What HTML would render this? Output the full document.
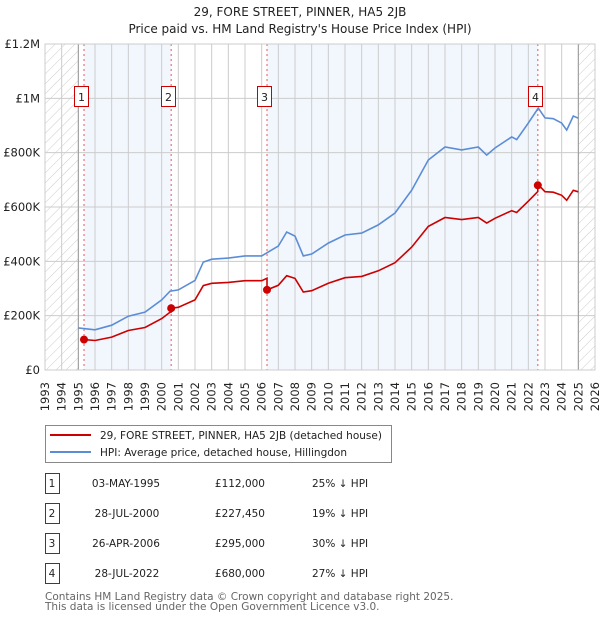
<!DOCTYPE html>
<html><head><meta charset="utf-8"><style>
body{margin:0;background:#fff;font-family:"DejaVu Sans","Liberation Sans",sans-serif;}
svg text{font-family:"DejaVu Sans","Liberation Sans",sans-serif;}
</style></head><body>
<svg id="c" width="600" height="620" xmlns="http://www.w3.org/2000/svg">
<defs><pattern id="hatch" width="7" height="7" patternUnits="userSpaceOnUse" patternTransform="rotate(45)"><line x1="0" y1="0" x2="0" y2="7" stroke="#ccc" stroke-width="1"/></pattern></defs>
<text x="300" y="16" text-anchor="middle" font-size="12" fill="#222">29, FORE STREET, PINNER, HA5 2JB</text>
<text x="300" y="33" text-anchor="middle" font-size="12" fill="#222">Price paid vs. HM Land Registry's House Price Index (HPI)</text>
<g id="plot"></g>
<g>
<rect x="45.5" y="425.5" width="346" height="37" fill="#fff" stroke="#888"/>
<line x1="50" y1="435" x2="91" y2="435" stroke="#cc0000" stroke-width="2"/>
<text x="100" y="439" font-size="10.5" fill="#222">29, FORE STREET, PINNER, HA5 2JB (detached house)</text>
<line x1="50" y1="452" x2="91" y2="452" stroke="#5b8dd6" stroke-width="2"/>
<text x="100" y="456" font-size="10.5" fill="#222">HPI: Average price, detached house, Hillingdon</text>
</g>
<g id="table"></g>
<text x="45" y="600" font-size="10.5" fill="#666">Contains HM Land Registry data © Crown copyright and database right 2025.</text>
<text x="45" y="610" font-size="10.5" fill="#666">This data is licensed under the Open Government Licence v3.0.</text>
</svg>
<script>
const hpiYears=[1995,1996,1997,1998,1999,2000,2000.5,2001,2002,2002.5,2003,2004,2005,2006,2007,2007.5,2008,2008.5,2009,2010,2011,2012,2013,2014,2015,2016,2017,2018,2019,2019.5,2020,2021,2021.3,2022,2022.6,2023,2023.5,2024,2024.3,2024.7,2025];
const hpiValues=[155000,148000,165000,198000,213000,258000,290000,295000,330000,397000,408000,412000,420000,420000,456000,508000,493000,420000,427000,467000,497000,504000,534000,578000,662000,773000,821000,810000,821000,791000,817000,858000,848000,909000,964000,928000,925000,909000,883000,935000,927000];
const saleLabels=["1","2","3","4"];
const saleDates=["03-MAY-1995","28-JUL-2000","26-APR-2006","28-JUL-2022"];
const saleYears=[1995.34,2000.57,2006.32,2022.57];
const salePrices=[112000,227450,295000,680000];
const salePriceText=["£112,000","£227,450","£295,000","£680,000"];
const saleDeltaText=["25% ↓ HPI","19% ↓ HPI","30% ↓ HPI","27% ↓ HPI"];
const yTickValues=[0,200000,400000,600000,800000,1000000,1200000];
const yTickLabels=["£0","£200K","£400K","£600K","£800K","£1M","£1.2M"];
const xTickYears=[1993,1994,1995,1996,1997,1998,1999,2000,2001,2002,2003,2004,2005,2006,2007,2008,2009,2010,2011,2012,2013,2014,2015,2016,2017,2018,2019,2020,2021,2022,2023,2024,2025,2026];

const NS="http://www.w3.org/2000/svg";
const L=45,R=595,T=44,B=370;
const X=y=>L+(y-1993)/(2026-1993)*(R-L);
const Y=v=>B-v/1200000*(B-T);
function mk(tag,attrs,parent){const e=document.createElementNS(NS,tag);for(const k in attrs)e.setAttribute(k,attrs[k]);parent.appendChild(e);return e;}
const plot=document.getElementById('plot');
for(let i=0;i<saleYears.length;i+=2){
 const b=mk('rect',{x:X(saleYears[i]),y:T,width:X(saleYears[i+1])-X(saleYears[i]),height:B-T,fill:'#f2f6fd'},plot);
 
 
}
const h1=mk('rect',{x:L,y:T,width:X(1995)-L,height:B-T,fill:'url(#hatch)'},plot);


const h2=mk('rect',{x:X(2025),y:T,width:R-X(2025),height:B-T,fill:'url(#hatch)'},plot);


xTickYears.forEach((yr,i)=>{
 const g=mk('line',{x1:X(yr),x2:X(yr),y1:T,y2:B,stroke:'#ccc','stroke-width':1},plot);
 
 
 const t=mk('text',{x:0,y:0,'font-size':11.5,fill:'#222','text-anchor':'end',transform:`translate(${X(yr)+4},382) rotate(-90)`},plot);
 t.textContent=yr;
 
 
});
yTickValues.forEach((v,i)=>{
 const g=mk('line',{x1:L,x2:R,y1:Y(v),y2:Y(v),stroke:'#ccc','stroke-width':1},plot);
 
 
 const t=mk('text',{x:40,y:Y(v)+4,'font-size':11.5,fill:'#222','text-anchor':'end'},plot);
 t.textContent=yTickLabels[i];
 
 
});
const vx1=mk('line',{x1:X(1995),x2:X(1995),y1:T,y2:B,stroke:'#999'},plot);


const vx2=mk('line',{x1:X(2025),x2:X(2025),y1:T,y2:B,stroke:'#999'},plot);


saleYears.forEach((sy,i)=>{
 const l=mk('line',{x1:X(sy),x2:X(sy),y1:T,y2:B,stroke:'#ee5555','stroke-dasharray':'2,3','stroke-width':1},plot);
 
 
});
function hpiAt(y){for(let i=0;i<hpiYears.length-1;i++){if(y<=hpiYears[i+1]){const f=(y-hpiYears[i])/(hpiYears[i+1]-hpiYears[i]);return hpiValues[i]+f*(hpiValues[i+1]-hpiValues[i]);}}return hpiValues[hpiValues.length-1];}
const hp=mk('path',{d:hpiYears.map((y,i)=>(i?'L':'M')+X(y).toFixed(1)+','+Y(hpiValues[i]).toFixed(1)).join(''),fill:'none',stroke:'#5b8dd6','stroke-width':1.6},plot);


let pts=[];
for(let s=0;s<saleYears.length;s++){
 const ratio=salePrices[s]/hpiAt(saleYears[s]);
 const end=s<saleYears.length-1?saleYears[s+1]:2025;
 pts.push([saleYears[s],salePrices[s]]);
 hpiYears.forEach((y,i)=>{if(y>saleYears[s]&&y<end)pts.push([y,hpiValues[i]*ratio]);});
 pts.push([end,hpiAt(end)*ratio]);
}
const pp=mk('path',{d:pts.map((p,i)=>(i?'L':'M')+X(p[0]).toFixed(1)+','+Y(p[1]).toFixed(1)).join(''),fill:'none',stroke:'#cc0000','stroke-width':1.6},plot);


saleYears.forEach((sy,i)=>{
 const c=mk('circle',{cx:X(sy),cy:Y(salePrices[i]),r:4,fill:'#cc0000'},plot);
 
 
 const bx=Math.round(X(sy))-10;
 const r=mk('rect',{x:bx+0.5,y:86.5,width:14,height:20,fill:'#fff',stroke:'#cc0000'},plot);
 
 
 const t=mk('text',{x:bx+7.5,y:101,'font-size':11,'text-anchor':'middle',fill:'#222'},plot);
 t.textContent=saleLabels[i];
 
 
});
const fr=mk('rect',{x:L,y:T,width:R-L,height:B-T,fill:'none',stroke:'#ccc'},plot);


const tb=document.getElementById('table');
saleLabels.forEach((lab,i)=>{
 const cy=483+i*30;
 const r=mk('rect',{x:45.5,y:cy-9.5,width:14,height:20,fill:'#fff',stroke:'#cc0000'},tb);
 
 
 const items=[[52,lab,'middle','table-row-number'],[i%2?127:126,saleDates[i],'middle','table-date'],[265,salePriceText[i],'end','table-price'],[312,saleDeltaText[i],'start','table-hpi-delta']];
 items.forEach(it=>{
  const t=mk('text',{x:it[0],y:cy+4,'font-size':10.5,fill:'#222','text-anchor':it[2]},tb);
  t.textContent=it[1];
  
  
 });
});
</script>
</body></html>
